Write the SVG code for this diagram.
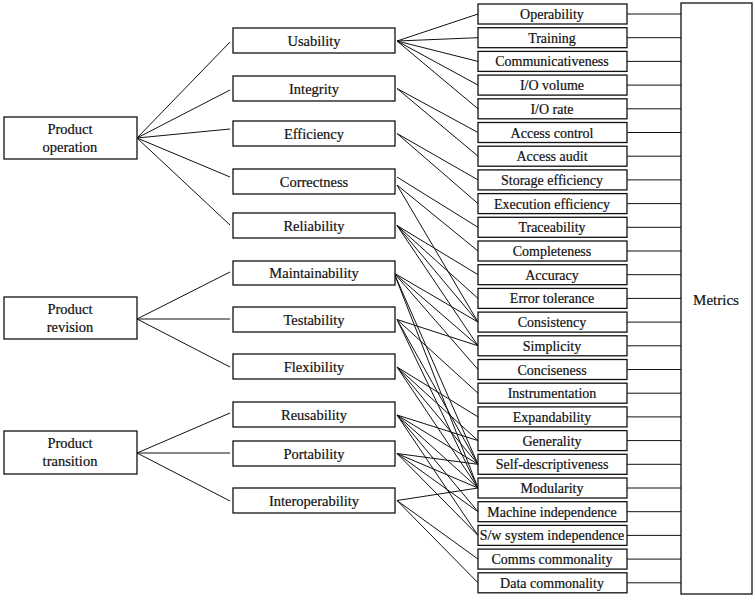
<svg xmlns="http://www.w3.org/2000/svg" width="755" height="602" viewBox="0 0 755 602">
<style>
.bx{fill:#fff;stroke:#111;stroke-width:1.3}
.t{font-family:"Liberation Serif","Times New Roman",serif;font-size:14px;fill:#111;stroke:#111;stroke-width:0.2;text-anchor:middle}
.tl{font-size:14.5px}
.c line{stroke:#111;stroke-width:1}
</style>
<rect width="755" height="602" fill="#fff"/>
<g id="connectors" class="c">
<line x1="137" y1="138" x2="230" y2="42"/>
<line x1="137" y1="138" x2="230" y2="90"/>
<line x1="137" y1="138" x2="230" y2="129"/>
<line x1="137" y1="138" x2="230" y2="177"/>
<line x1="137" y1="138" x2="230" y2="225"/>
<line x1="137" y1="319" x2="230" y2="272"/>
<line x1="137" y1="319" x2="230" y2="319"/>
<line x1="137" y1="319" x2="230" y2="367"/>
<line x1="137" y1="453" x2="230" y2="413"/>
<line x1="137" y1="453" x2="230" y2="453"/>
<line x1="137" y1="453" x2="230" y2="501"/>
<line x1="397" y1="41" x2="478" y2="14"/>
<line x1="397" y1="41" x2="478" y2="37.7"/>
<line x1="397" y1="41" x2="478" y2="61.4"/>
<line x1="397" y1="41" x2="478" y2="85.1"/>
<line x1="397" y1="41" x2="478" y2="108.8"/>
<line x1="397" y1="88.5" x2="478" y2="132.5"/>
<line x1="397" y1="88.5" x2="478" y2="156.2"/>
<line x1="397" y1="133.5" x2="478" y2="179.9"/>
<line x1="397" y1="133.5" x2="478" y2="203.6"/>
<line x1="397" y1="177" x2="478" y2="227.3"/>
<line x1="397" y1="185" x2="478" y2="251"/>
<line x1="397" y1="185" x2="478" y2="322.1"/>
<line x1="397" y1="225.5" x2="478" y2="274.7"/>
<line x1="397" y1="225.5" x2="478" y2="298.4"/>
<line x1="397" y1="225.5" x2="478" y2="322.1"/>
<line x1="397" y1="225.5" x2="478" y2="345.8"/>
<line x1="394" y1="273" x2="478" y2="322.1"/>
<line x1="394" y1="273" x2="478" y2="345.8"/>
<line x1="394" y1="273" x2="478" y2="369.5"/>
<line x1="394" y1="273" x2="478" y2="464.3"/>
<line x1="394" y1="273" x2="478" y2="488"/>
<line x1="397" y1="319.5" x2="478" y2="345.8"/>
<line x1="397" y1="319.5" x2="478" y2="393.2"/>
<line x1="397" y1="319.5" x2="478" y2="464.3"/>
<line x1="397" y1="319.5" x2="478" y2="488"/>
<line x1="397" y1="367" x2="478" y2="416.9"/>
<line x1="397" y1="367" x2="478" y2="440.6"/>
<line x1="397" y1="367" x2="478" y2="464.3"/>
<line x1="397" y1="367" x2="478" y2="488"/>
<line x1="397" y1="415" x2="478" y2="440.6"/>
<line x1="397" y1="415" x2="478" y2="464.3"/>
<line x1="397" y1="415" x2="478" y2="488"/>
<line x1="397" y1="415" x2="478" y2="511.7"/>
<line x1="397" y1="415" x2="478" y2="535.4"/>
<line x1="397" y1="453.5" x2="478" y2="464.3"/>
<line x1="397" y1="453.5" x2="478" y2="488"/>
<line x1="397" y1="453.5" x2="478" y2="511.7"/>
<line x1="397" y1="453.5" x2="478" y2="535.4"/>
<line x1="397" y1="500.5" x2="478" y2="488"/>
<line x1="397" y1="500.5" x2="478" y2="559.1"/>
<line x1="397" y1="500.5" x2="478" y2="582.8"/>
<line x1="627" y1="14" x2="682" y2="14"/>
<line x1="627" y1="37.7" x2="682" y2="37.7"/>
<line x1="627" y1="61.4" x2="682" y2="61.4"/>
<line x1="627" y1="85.1" x2="682" y2="85.1"/>
<line x1="627" y1="108.8" x2="682" y2="108.8"/>
<line x1="627" y1="132.5" x2="682" y2="132.5"/>
<line x1="627" y1="156.2" x2="682" y2="156.2"/>
<line x1="627" y1="179.9" x2="682" y2="179.9"/>
<line x1="627" y1="203.6" x2="682" y2="203.6"/>
<line x1="627" y1="227.3" x2="682" y2="227.3"/>
<line x1="627" y1="251" x2="682" y2="251"/>
<line x1="627" y1="274.7" x2="682" y2="274.7"/>
<line x1="627" y1="298.4" x2="682" y2="298.4"/>
<line x1="627" y1="322.1" x2="682" y2="322.1"/>
<line x1="627" y1="345.8" x2="682" y2="345.8"/>
<line x1="627" y1="369.5" x2="682" y2="369.5"/>
<line x1="627" y1="393.2" x2="682" y2="393.2"/>
<line x1="627" y1="416.9" x2="682" y2="416.9"/>
<line x1="627" y1="440.6" x2="682" y2="440.6"/>
<line x1="627" y1="464.3" x2="682" y2="464.3"/>
<line x1="627" y1="488" x2="682" y2="488"/>
<line x1="627" y1="511.7" x2="682" y2="511.7"/>
<line x1="627" y1="535.4" x2="682" y2="535.4"/>
<line x1="627" y1="559.1" x2="682" y2="559.1"/>
<line x1="627" y1="582.8" x2="682" y2="582.8"/>
</g>
<g id="product-operation"><rect class="bx" x="4" y="117" width="133" height="42"/><text class="t tl" x="70" y="134">Product</text><text class="t tl" x="70" y="152">operation</text></g>
<g id="product-revision"><rect class="bx" x="4" y="297" width="133" height="42"/><text class="t tl" x="70" y="314">Product</text><text class="t tl" x="70" y="332">revision</text></g>
<g id="product-transition"><rect class="bx" x="4" y="431" width="133" height="43"/><text class="t tl" x="70" y="448">Product</text><text class="t tl" x="70" y="466">transition</text></g>
<g id="usability"><rect class="bx" x="233" y="28" width="162" height="25"/><text class="t tl" x="314" y="45.5">Usability</text></g>
<g id="integrity"><rect class="bx" x="233" y="76" width="162" height="25"/><text class="t tl" x="314" y="93.5">Integrity</text></g>
<g id="efficiency"><rect class="bx" x="233" y="121" width="162" height="25"/><text class="t tl" x="314" y="138.5">Efficiency</text></g>
<g id="correctness"><rect class="bx" x="233" y="169" width="162" height="25"/><text class="t tl" x="314" y="186.5">Correctness</text></g>
<g id="reliability"><rect class="bx" x="233" y="213" width="162" height="25"/><text class="t tl" x="314" y="230.5">Reliability</text></g>
<g id="maintainability"><rect class="bx" x="233" y="261" width="162" height="24"/><text class="t tl" x="314" y="278">Maintainability</text></g>
<g id="testability"><rect class="bx" x="233" y="307" width="162" height="25"/><text class="t tl" x="314" y="324.5">Testability</text></g>
<g id="flexibility"><rect class="bx" x="233" y="354" width="162" height="25"/><text class="t tl" x="314" y="371.5">Flexibility</text></g>
<g id="reusability"><rect class="bx" x="233" y="402" width="162" height="25"/><text class="t tl" x="314" y="419.5">Reusability</text></g>
<g id="portability"><rect class="bx" x="233" y="441" width="162" height="25"/><text class="t tl" x="314" y="458.5">Portability</text></g>
<g id="interoperability"><rect class="bx" x="233" y="488" width="162" height="25"/><text class="t tl" x="314" y="505.5">Interoperability</text></g>
<g id="operability"><rect class="bx" x="478" y="4" width="149" height="20"/><text class="t" x="552" y="19">Operability</text></g>
<g id="training"><rect class="bx" x="478" y="27.7" width="149" height="20"/><text class="t" x="552" y="42.7">Training</text></g>
<g id="communicativeness"><rect class="bx" x="478" y="51.4" width="149" height="20"/><text class="t" x="552" y="66.4">Communicativeness</text></g>
<g id="io-volume"><rect class="bx" x="478" y="75.1" width="149" height="20"/><text class="t" x="552" y="90.1">I/O volume</text></g>
<g id="io-rate"><rect class="bx" x="478" y="98.8" width="149" height="20"/><text class="t" x="552" y="113.8">I/O rate</text></g>
<g id="access-control"><rect class="bx" x="478" y="122.5" width="149" height="20"/><text class="t" x="552" y="137.5">Access control</text></g>
<g id="access-audit"><rect class="bx" x="478" y="146.2" width="149" height="20"/><text class="t" x="552" y="161.2">Access audit</text></g>
<g id="storage-efficiency"><rect class="bx" x="478" y="169.9" width="149" height="20"/><text class="t" x="552" y="184.9">Storage efficiency</text></g>
<g id="execution-efficiency"><rect class="bx" x="478" y="193.6" width="149" height="20"/><text class="t" x="552" y="208.6">Execution efficiency</text></g>
<g id="traceability"><rect class="bx" x="478" y="217.3" width="149" height="20"/><text class="t" x="552" y="232.3">Traceability</text></g>
<g id="completeness"><rect class="bx" x="478" y="241" width="149" height="20"/><text class="t" x="552" y="256">Completeness</text></g>
<g id="accuracy"><rect class="bx" x="478" y="264.7" width="149" height="20"/><text class="t" x="552" y="279.7">Accuracy</text></g>
<g id="error-tolerance"><rect class="bx" x="478" y="288.4" width="149" height="20"/><text class="t" x="552" y="303.4">Error tolerance</text></g>
<g id="consistency"><rect class="bx" x="478" y="312.1" width="149" height="20"/><text class="t" x="552" y="327.1">Consistency</text></g>
<g id="simplicity"><rect class="bx" x="478" y="335.8" width="149" height="20"/><text class="t" x="552" y="350.8">Simplicity</text></g>
<g id="conciseness"><rect class="bx" x="478" y="359.5" width="149" height="20"/><text class="t" x="552" y="374.5">Conciseness</text></g>
<g id="instrumentation"><rect class="bx" x="478" y="383.2" width="149" height="20"/><text class="t" x="552" y="398.2">Instrumentation</text></g>
<g id="expandability"><rect class="bx" x="478" y="406.9" width="149" height="20"/><text class="t" x="552" y="421.9">Expandability</text></g>
<g id="generality"><rect class="bx" x="478" y="430.6" width="149" height="20"/><text class="t" x="552" y="445.6">Generality</text></g>
<g id="self-descriptiveness"><rect class="bx" x="478" y="454.3" width="149" height="20"/><text class="t" x="552" y="469.3">Self-descriptiveness</text></g>
<g id="modularity"><rect class="bx" x="478" y="478" width="149" height="20"/><text class="t" x="552" y="493">Modularity</text></g>
<g id="machine-independence"><rect class="bx" x="478" y="501.7" width="149" height="20"/><text class="t" x="552" y="516.7">Machine independence</text></g>
<g id="sw-system-independence"><rect class="bx" x="478" y="525.4" width="149" height="20"/><text class="t" x="552" y="540.4">S/w system independence</text></g>
<g id="comms-commonality"><rect class="bx" x="478" y="549.1" width="149" height="20"/><text class="t" x="552" y="564.1">Comms commonality</text></g>
<g id="data-commonality"><rect class="bx" x="478" y="572.8" width="149" height="20"/><text class="t" x="552" y="587.8">Data commonality</text></g>
<g id="metrics"><rect class="bx" x="681" y="3" width="71" height="591"/><text class="t" x="716" y="305" style="font-size:15px">Metrics</text></g>
</svg>
